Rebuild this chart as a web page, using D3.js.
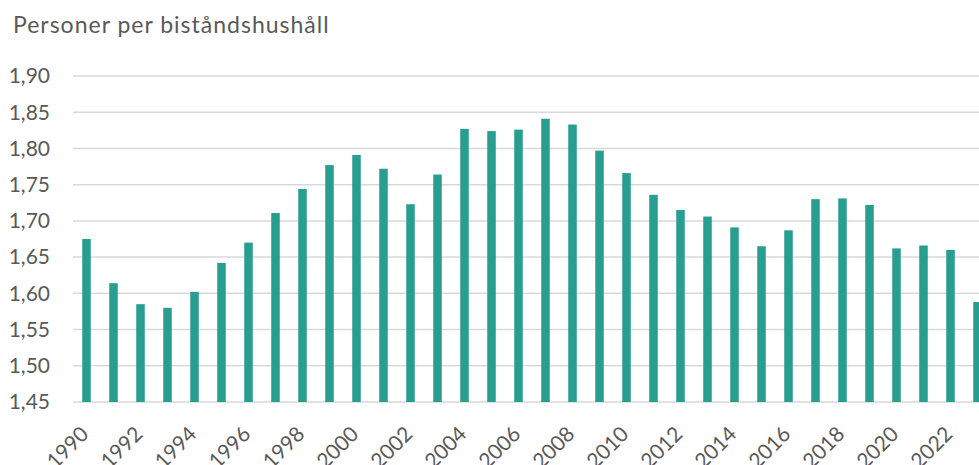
<!DOCTYPE html>
<html>
<head>
<meta charset="utf-8">
<script src="https://cdn.jsdelivr.net/npm/d3@7"></script>
<style>
  body { margin: 0; background: #fff; }
  svg { display: block; overflow: hidden; }
</style>
</head>
<body>
<div id="chart"></div>
<script>
const width = 979;
const height = 465;

const years = d3.range(1990, 2024);
const values = [
  1.675, 1.614, 1.585, 1.580, 1.602, 1.642, 1.670, 1.711, 1.744, 1.777,
  1.791, 1.772, 1.723, 1.764, 1.827, 1.824, 1.826, 1.841, 1.833, 1.797,
  1.766, 1.736, 1.715, 1.706, 1.691, 1.665, 1.687, 1.730, 1.731, 1.722,
  1.662, 1.666, 1.660, 1.588
];
const yTicks = [1.45, 1.50, 1.55, 1.60, 1.65, 1.70, 1.75, 1.80, 1.85, 1.90];
const title = "Personer per biståndshushåll";

const data = years.map(function(y, i) {
  return { year: y, value: values[i] };
});

const left = 73;
const step = 27;

const x = d3.scaleBand()
  .domain(years)
  .range([left, left + step * years.length])
  .paddingInner(0.685)
  .paddingOuter(0.3425);

const y = d3.scaleLinear()
  .domain([1.45, 1.90])
  .range([402, 76]);

const fmt = function(d) {
  return d3.format(".2f")(d).replace(".", ",");
};

const svg = d3.select("#chart")
  .append("svg")
  .attr("width", width)
  .attr("height", height)
  .style("font-family", "Lato, 'Open Sans', sans-serif");

svg.append("text")
  .attr("x", 13)
  .attr("y", 33)
  .attr("fill", "#595959")
  .style("font-size", "23px")
  .style("letter-spacing", "1px")
  .text(title);

// grid lines
svg.append("g")
  .selectAll("line")
  .data(yTicks)
  .enter()
  .append("line")
  .attr("x1", left)
  .attr("x2", width)
  .attr("y1", function(d) { return y(d); })
  .attr("y2", function(d) { return y(d); })
  .attr("stroke", "#d9d9d9")
  .attr("stroke-width", 1.5);

svg.append("g")
  .selectAll("text")
  .data(yTicks)
  .enter()
  .append("text")
  .attr("x", 50)
  .attr("y", function(d) { return y(d); })
  .attr("dy", "0.35em")
  .attr("text-anchor", "end")
  .attr("fill", "#595959")
  .style("font-size", "21px")
  .text(fmt);

svg.append("g")
  .selectAll("rect")
  .data(data)
  .enter()
  .append("rect")
  .attr("x", function(d) { return x(d.year); })
  .attr("y", function(d) { return y(d.value); })
  .attr("width", x.bandwidth())
  .attr("height", function(d) { return y(1.45) - y(d.value); })
  .attr("fill", "#289E90");

svg.append("g")
  .selectAll("text")
  .data(years.filter(function(d) { return d % 2 === 0; }))
  .enter()
  .append("text")
  .attr("transform", function(d) {
    return "translate(" + (x(d) + x.bandwidth() / 2 - 7) + ",425) rotate(-45)";
  })
  .attr("text-anchor", "end")
  .attr("dy", "0.7em")
  .attr("fill", "#595959")
  .style("font-size", "21px")
  .text(function(d) { return d; });
</script>
</body>
</html>
